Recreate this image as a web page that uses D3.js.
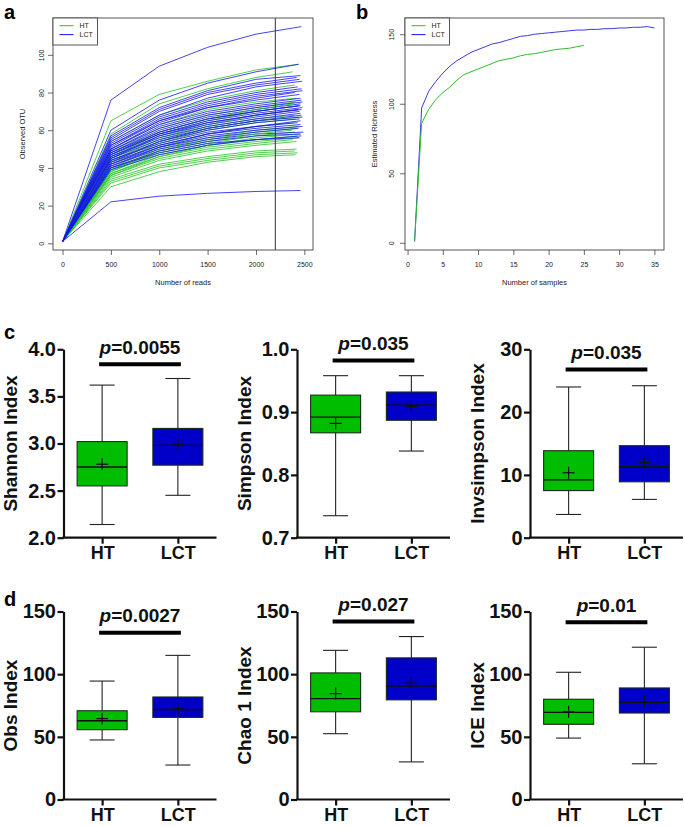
<!DOCTYPE html>
<html><head><meta charset="utf-8">
<script src="https://cdn.jsdelivr.net/npm/d3@7"></script>
<style>body{margin:0;background:#fff}svg{display:block}text{font-family:Arial,"Liberation Sans",Helvetica,sans-serif}</style>
</head><body><svg id="c" width="685" height="827"></svg>
<script>
// ---------------- DATA ----------------
const groups = ["HT", "LCT"];
// panel a: rarefaction curves, each [OTU@500, @1000, @1500, @2000, OTU at end, reads at end]
const depthSteps = [500, 1000, 1500, 2000];
const htCurves = [
  [65,79,86,92,95,2440],[58,74,82,88,91,2380],[54,68,76,81,84,2400],[50,63,71,75,77,2420],
  [48,61,68,72,75,2410],[46,58,65,70,73,2450],[45,56,63,68,71,2430],[44,55,62,66,68,2400],
  [42,53,60,64,66,2410],[40,51,58,62,64,2390],[39,50,56,60,62,2440],[38,49,55,59,61,2420],
  [38,48,53,57,59,2400],[37,47,52,55,57,2430],[36,46,51,54,56,2440],[36,45,50,53,55,2380],
  [35,44,49,52,54,2420],[34,42,46,49,50,2420],[33,41,45,48,49,2400],[32,40,44,47,48,2430],
  [30,38,43,46,47,2410],[37,46,52,56,58,2460],[39,49,54,58,60,2370],[43,54,61,65,67,2450],
  [47,59,66,71,74,2390]
];
const lctCurves = [
  [76,94,104,111,115,2470],[60,76,85,91,95,2440],[57,72,81,87,89,2460],[55,70,79,84,87,2450],
  [54,68,77,83,86,2475],[53,67,75,80,83,2430],[52,66,74,79,82,2470],[51,65,73,78,81,2480],
  [50,63,70,74,77,2460],[49,62,69,73,76,2470],[49,61,68,72,75,2480],[48,60,67,71,74,2460],
  [48,59,66,70,73,2440],[47,58,65,69,72,2480],[47,58,64,68,71,2470],[46,57,63,67,70,2450],
  [46,56,62,66,69,2460],[45,55,61,65,68,2470],[44,54,60,64,66,2450],[44,53,59,62,64,2430],
  [43,52,58,61,63,2460],[42,51,56,59,61,2440],[41,50,55,58,59,2490],[40,49,54,57,58,2460],
  [40,48,53,55,56,2450],[56,71,80,85,88,2420],[45,57,64,68,71,2440],[43,54,61,65,67,2480],
  [42,52,58,62,65,2460],[50,64,72,76,79,2450],[52,65,72,77,80,2400],[47,59,66,70,73,2460],
  [39,47,52,55,57,2470],[41,51,57,60,62,2480],[22,25,26.5,27.5,28,2460]
];
const cutoffDepth = 2200;
const readTicks = [0, 500, 1000, 1500, 2000, 2500];
const otuTicks = [0, 20, 40, 60, 80, 100];

// panel b: estimated richness vs number of samples
const htRichness = [1,86,96,103,108,112,117,121,123,125,127,129,131,132,133,134.5,135.5,136,137,138,139,139.5,140,141,142];
const lctRichness = [1,97,109,116,122,127,131,134,137,139,141,143,144,145.5,147,148.5,149,150,150.5,151,151.5,152,152.5,153,153,153.5,153.5,154,154,154.5,154.5,155,155,155.5,154.5];
const sampleTicks = [0, 5, 10, 15, 20, 25, 30, 35];
const richTicks = [0, 50, 100, 150];

// panels c,d: box plots  [min, q1, median, q3, max, mean]
const indexNames = ["Shannon Index", "Simpson Index", "Invsimpson Index", "Obs Index", "Chao 1 Index", "ICE Index"];
const indexTicks = [[2.0,2.5,3.0,3.5,4.0],[0.7,0.8,0.9,1.0],[0,10,20,30],[0,50,100,150],[0,50,100,150],[0,50,100,150]];
const indexTickLabels = [["2.0","2.5","3.0","3.5","4.0"],["0.7","0.8","0.9","1.0"],["0","10","20","30"],["0","50","100","150"],["0","50","100","150"],["0","50","100","150"]];
const statsHT = [
  [2.14,2.55,2.75,3.02,3.62,2.78],
  [0.735,0.867,0.892,0.927,0.958,0.882],
  [3.7,7.5,9.2,13.85,24.0,10.35],
  [47.5,55.7,62.8,70.8,94.5,64.5],
  [52.5,70,80.5,101,119,84.5],
  [49,60,69.5,80,101.5,70]
];
const statsLCT = [
  [2.45,2.77,2.98,3.16,3.69,2.99],
  [0.838,0.887,0.911,0.932,0.958,0.909],
  [6.1,8.9,11.3,14.65,24.2,11.95],
  [27.5,65.5,71.8,81.8,115,72.5],
  [30,79.5,90.5,113,130,93],
  [28.5,69,77.5,89,121.5,78]
];
const pValues = ["0.0055", "0.035", "0.035", "0.0027", "0.027", "0.01"];
const sigLevel = [3.84, 0.982, 26.8, 133, 142, 141.4];

// ---------------- DRAWING ----------------
const svg = d3.select("#c");
const GREEN = "#22c422", BLUE = "#1414ee";
const boxFill = {HT: "#00bd00", LCT: "#0000c8"};

function rExt(lo, hi) { const p = (hi - lo) * 0.04; return [lo - p, hi + p]; }

function smallPanel(opt) {
  const g = svg.append("g");
  const x = d3.scaleLinear().domain(opt.xd).range([opt.x0, opt.x1]);
  const y = d3.scaleLinear().domain(opt.yd).range([opt.y1, opt.y0]);
  opt.draw(g, x, y);
  g.append("rect").attr("x", opt.x0).attr("y", opt.y0).attr("width", opt.x1 - opt.x0).attr("height", opt.y1 - opt.y0)
    .attr("fill", "none").attr("stroke", "#444").attr("stroke-width", 0.9);
  const ax = g.append("g").attr("transform", `translate(0,${opt.y1})`)
    .call(d3.axisBottom(x).tickValues(opt.xt).tickSize(5).tickPadding(7).tickFormat(d3.format("d")));
  ax.select(".domain").remove();
  ax.selectAll("line").attr("stroke", "#444").attr("stroke-width", 0.8);
  ax.selectAll("text").attr("font-size", 7).attr("fill", "#222").attr("font-family", null);
  const ay = g.append("g").attr("transform", `translate(${opt.x0},0)`)
    .call(d3.axisLeft(y).tickValues(opt.yt).tickSize(5).tickFormat(d3.format("d")));
  ay.select(".domain").remove();
  ay.selectAll("line").attr("stroke", "#444").attr("stroke-width", 0.8);
  ay.selectAll("text").attr("font-size", 7).attr("fill", "#222").attr("font-family", null)
    .attr("transform", "rotate(-90)").attr("x", 0).attr("y", -opt.ylabOff).attr("dy", 0).attr("text-anchor", "middle");
  g.append("text").attr("x", (opt.x0 + opt.x1) / 2).attr("y", 285).attr("text-anchor", "middle")
    .attr("font-size", 7.5).attr("fill", "#222").text(opt.xtitle);
  g.append("text").attr("transform", `translate(${opt.ytx},${(opt.y0 + opt.y1) / 2}) rotate(-90)`)
    .attr("text-anchor", "middle").attr("font-size", 7.5).attr("fill", "#222").text(opt.ytitle);
  const lg = g.append("g");
  lg.append("rect").attr("x", opt.x0).attr("y", opt.y0).attr("width", 44.5).attr("height", 27)
    .attr("fill", "#fff").attr("stroke", "#444").attr("stroke-width", 0.9);
  [[groups[0], GREEN, 25.7], [groups[1], BLUE, 34.6]].forEach(([t, c, yy]) => {
    lg.append("line").attr("x1", opt.x0 + 6.5).attr("x2", opt.x0 + 20.5).attr("y1", yy).attr("y2", yy)
      .attr("stroke", c).attr("stroke-width", 1);
    lg.append("text").attr("x", opt.x0 + 26.5).attr("y", yy + 2.5).attr("font-size", 7).attr("fill", "#222").text(t);
  });
  return {x, y};
}

// Panel a
const allCurves = htCurves.concat(lctCurves);
smallPanel({
  x0: 53, x1: 313, y0: 18, y1: 250,
  xd: rExt(1, d3.max(allCurves, c => c[5])),
  yd: rExt(1, d3.max(allCurves, c => c[4])),
  xt: readTicks, yt: otuTicks, ylabOff: 9.5, ytx: 25,
  xtitle: "Number of reads", ytitle: "Observed OTU",
  draw: (g, x, y) => {
    const line = d3.line().x(d => x(d[0])).y(d => y(d[1]));
    const pts = c => [[1, 1]].concat(depthSteps.map((s, i) => [s, c[i]])).concat([[c[5], c[4]]]);
    const n = Math.max(htCurves.length, lctCurves.length);
    for (let i = 0; i < n; i++) {
      if (i < lctCurves.length) g.append("path").attr("d", line(pts(lctCurves[i]))).attr("fill", "none").attr("stroke", BLUE).attr("stroke-width", 0.8);
      if (i < htCurves.length) g.append("path").attr("d", line(pts(htCurves[i]))).attr("fill", "none").attr("stroke", GREEN).attr("stroke-width", 0.8);
    }
    g.append("line").attr("x1", x(cutoffDepth)).attr("x2", x(cutoffDepth)).attr("y1", 18).attr("y2", 250)
      .attr("stroke", "#333").attr("stroke-width", 1);
  }
});

// Panel b
smallPanel({
  x0: 405, x1: 664, y0: 18, y1: 250,
  xd: rExt(1, lctRichness.length),
  yd: rExt(1, d3.max(lctRichness.concat(htRichness))),
  xt: sampleTicks, yt: richTicks, ylabOff: 11, ytx: 377,
  xtitle: "Number of samples", ytitle: "Estimated Richness",
  draw: (g, x, y) => {
    const line = d3.line().x((d, i) => x(i + 1)).y(d => y(d));
    g.append("path").attr("d", line(lctRichness)).attr("fill", "none").attr("stroke", "#3a3ae0").attr("stroke-width", 1);
    g.append("path").attr("d", line(htRichness)).attr("fill", "none").attr("stroke", "#2ebd2e").attr("stroke-width", 1);
  }
});

// Panel labels
[["a", 4, 19], ["b", 356, 19], ["c", 4, 339], ["d", 4, 606]].forEach(([t, x, y]) =>
  svg.append("text").attr("x", x).attr("y", y).attr("font-size", 20).attr("font-weight", "bold").text(t));

// Box plots
const colX = [63.5, 297, 530];
const rowY = [[349.3, 537.7], [611.5, 799.5]];
const axLen = 153, boxW = 50;

indexNames.forEach((name, k) => {
  const ax0 = colX[k % 3], [yt, yb] = rowY[Math.floor(k / 3)];
  const ticks = indexTicks[k];
  const y = d3.scaleLinear().domain([ticks[0], ticks[ticks.length - 1]]).range([yb, yt]);
  const x = d3.scalePoint().domain(groups).range([ax0, ax0 + axLen]).padding(0.51);
  const g = svg.append("g");

  [statsHT[k], statsLCT[k]].forEach((s, gi) => {
    const grp = groups[gi], cx = x(grp);
    const [mn, q1, md, q3, mx, mean] = s;
    g.append("line").attr("x1", cx).attr("x2", cx).attr("y1", y(mx)).attr("y2", y(q3)).attr("stroke", "#222").attr("stroke-width", 1.1);
    g.append("line").attr("x1", cx).attr("x2", cx).attr("y1", y(q1)).attr("y2", y(mn)).attr("stroke", "#222").attr("stroke-width", 1.1);
    [mx, mn].forEach(v => g.append("line").attr("x1", cx - boxW / 4).attr("x2", cx + boxW / 4).attr("y1", y(v)).attr("y2", y(v)).attr("stroke", "#222").attr("stroke-width", 1.1));
    g.append("rect").attr("x", cx - boxW / 2).attr("y", y(q3)).attr("width", boxW).attr("height", y(q1) - y(q3))
      .attr("fill", boxFill[grp]).attr("stroke", "#1a2a1a").attr("stroke-width", 1.1);
    g.append("line").attr("x1", cx - boxW / 2).attr("x2", cx + boxW / 2).attr("y1", y(md)).attr("y2", y(md)).attr("stroke", "#111").attr("stroke-width", 1.4);
    g.append("line").attr("x1", cx - 6).attr("x2", cx + 6).attr("y1", y(mean)).attr("y2", y(mean)).attr("stroke", "#111").attr("stroke-width", 1.2);
    g.append("line").attr("x1", cx).attr("x2", cx).attr("y1", y(mean) - 6).attr("y2", y(mean) + 6).attr("stroke", "#111").attr("stroke-width", 1.2);
  });

  const ay = g.append("g").attr("transform", `translate(${ax0},0)`)
    .call(d3.axisLeft(y).tickValues(ticks).tickFormat((d, i) => indexTickLabels[k][i]).tickSize(6).tickSizeOuter(0).tickPadding(1.5));
  ay.selectAll("path,line").attr("stroke", "#111").attr("stroke-width", 2.2);
  ay.selectAll("text").attr("font-size", 20).attr("font-weight", "bold").attr("fill", "#111").attr("font-family", null);
  const axb = g.append("g").attr("transform", `translate(0,${yb})`)
    .call(d3.axisBottom(x).tickSize(6).tickSizeOuter(0).tickPadding(2.5));
  axb.select(".domain").attr("d", `M${ax0 - 1},0H${ax0 + axLen}`);
  axb.selectAll("path,line").attr("stroke", "#111").attr("stroke-width", 2.2);
  axb.selectAll("text").attr("font-size", 18).attr("font-weight", "bold").attr("fill", "#111").attr("font-family", null);

  g.append("text").attr("transform", `translate(${ax0 - 53},${(yt + yb) / 2}) rotate(-90)`)
    .attr("text-anchor", "middle").attr("dy", "0.35em").attr("font-size", 19).attr("font-weight", "bold").attr("fill", "#111").text(name);

  const x1 = x(groups[0]) - 3, x2 = x(groups[1]) + 3, sy = y(sigLevel[k]);
  g.append("line").attr("x1", x1).attr("x2", x2).attr("y1", sy).attr("y2", sy).attr("stroke", "#000").attr("stroke-width", 4);
  const t = g.append("text").attr("x", (x1 + x2) / 2).attr("y", sy - 10.5).attr("text-anchor", "middle")
    .attr("font-size", 19).attr("font-weight", "bold").attr("fill", "#111");
  t.append("tspan").attr("font-style", "italic").text("p");
  t.append("tspan").text("=" + pValues[k]);
});
</script></body></html>
